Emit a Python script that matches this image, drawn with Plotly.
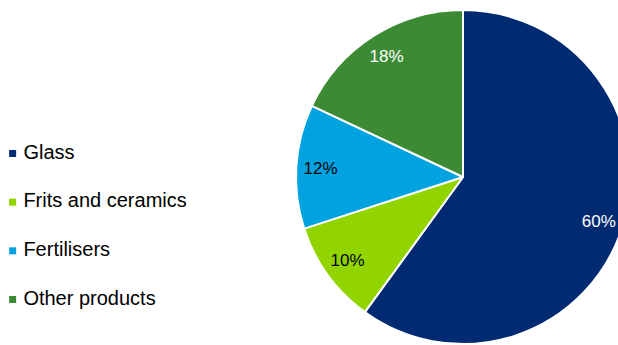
import plotly.graph_objects as go

# Share of end-use by product
products = ["Glass", "Frits and ceramics", "Fertilisers", "Other products"]
shares = [60, 10, 12, 18]
colors = ["#002A72", "#92D400", "#00A3E0", "#3D8A34"]
label_colors = ["white", "black", "black", "white"]

FONT = "Liberation Sans, Arial, sans-serif"
W, H = 632, 345

fig = go.Figure()

# Filled slices
pie_domain = dict(x=[296 / W, 630 / W], y=[1 - 344 / H, 1 - 10 / H])
fig.add_trace(go.Pie(
    labels=products, values=shares, sort=False, direction="clockwise",
    rotation=0, domain=pie_domain,
    marker=dict(colors=colors, line=dict(color="white", width=2)),
    textinfo="none", hoverinfo="label+percent", showlegend=False,
))

# Percentage labels, laid out in an outer ring so they sit near the rim
fig.add_trace(go.Pie(
    labels=products, values=shares, sort=False, direction="clockwise",
    rotation=0, domain=pie_domain, hole=0.71,
    marker=dict(colors=["rgba(0,0,0,0)"] * len(products), line=dict(width=0)),
    texttemplate="%{percent:.0%}", textposition="inside",
    insidetextorientation="horizontal",
    textfont=dict(family=FONT, size=17, color=label_colors),
    hoverinfo="skip", showlegend=False,
))

# Key on the left: one row per product, top to bottom
rows = list(range(len(products) - 1, -1, -1))
KEY_X, TEXT_X = 2.0, 3.7
fig.add_trace(go.Scatter(
    x=[KEY_X] * len(products), y=rows, mode="markers",
    marker=dict(symbol="square", size=7, color=colors, line=dict(width=0)),
    hoverinfo="skip", showlegend=False,
))
fig.add_trace(go.Scatter(
    x=[TEXT_X] * len(products), y=rows, mode="text",
    text=products, textposition="middle right",
    textfont=dict(family=FONT, size=20, color="black"),
    hoverinfo="skip", showlegend=False,
))

fig.update_layout(
    width=W, height=H,
    margin=dict(l=0, r=0, t=0, b=0),
    paper_bgcolor="white", plot_bgcolor="rgba(0,0,0,0)",
    showlegend=False,
    xaxis=dict(visible=False, range=[0, 100], fixedrange=True),
    yaxis=dict(visible=False, range=[-0.935, 6.154], fixedrange=True),
    font=dict(family=FONT, color="black"),
)

fig.write_html(
    "out.html",
    post_script="document.documentElement.style.overflow='hidden';"
                "document.body.style.overflow='hidden';",
)
